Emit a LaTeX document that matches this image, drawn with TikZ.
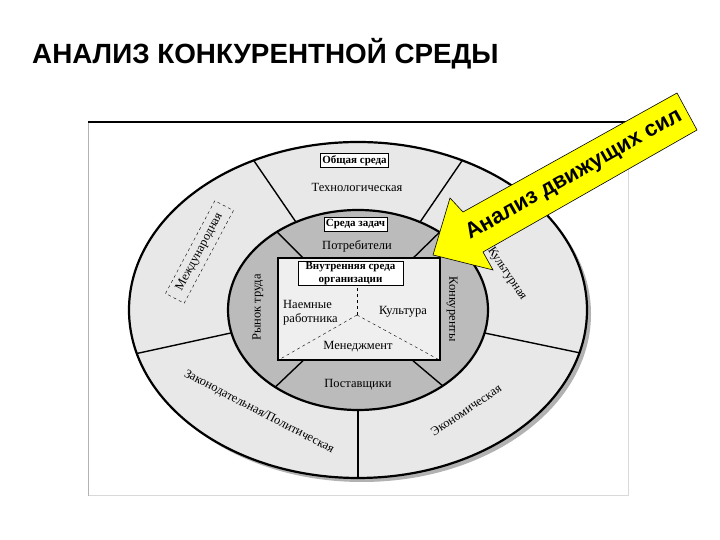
\documentclass[tikz,border=0pt]{standalone}
\usepackage{fontspec}
\setmainfont{Liberation Serif}
\newfontfamily\arialfont{Liberation Sans}
\definecolor{outerband}{HTML}{E8E8E8}
\definecolor{taskband}{HTML}{BBBBBB}
\definecolor{orgfill}{HTML}{EFEFEF}
\definecolor{arrowyellow}{HTML}{FFFF00}
\begin{document}
\begin{tikzpicture}[x=1pt,y=1pt,
  lbl/.style={font=\fontsize{12.5}{14}\selectfont, inner sep=1pt},
  envbox/.style={draw, fill=white, line width=0.6pt, inner sep=2pt,
    font=\bfseries\fontsize{11}{12.5}\selectfont},
  ring/.style={line width=2.2pt},
  spoke/.style={line width=1.4pt}]
\useasboundingbox (0,0) rectangle (720,540);
% title
\node[anchor=west, inner sep=0pt, font=\arialfont\bfseries\fontsize{27.8}{30}\selectfont] (title) at (32,486) {АНАЛИЗ КОНКУРЕНТНОЙ СРЕДЫ};
% frame
\fill[white] (88,44) rectangle (628,418);
\draw[gray!30, line width=1pt] (88,44) -- (628,44) -- (628,418);
\draw[gray!60, line width=1pt] (88,44) -- (88,418);
\draw[black, line width=1.2pt] (88,418) -- (628,418);
% general environment
\fill[gray!60] (362,226) ellipse [x radius=229, y radius=168];
\draw[ring, fill=outerband] (358,230) ellipse [x radius=229, y radius=168];
\begin{scope}
 \clip (358,230) ellipse [x radius=229, y radius=168];
 \draw[spoke] (250,385) -- (300,312);
 \draw[spoke] (466,385) -- (416,312);
 \draw[spoke] (130,185) -- (240,209);
 \draw[spoke] (358,55) -- (358,140);
 \draw[spoke] (475,209) -- (590,185);
\end{scope}
\node[envbox] (general) at (354.5,379.5) {Общая среда};
\node[lbl] (tech) at (357,353) {Технологическая};
\node[lbl, draw, dashed, thin, fill=outerband, rotate=62, minimum width=105, minimum height=21] (intl) at (199.5,288) {Международная};
\node[lbl, rotate=-27.5] (legal) at (259,128) {Законодательная/Политическая};
\node[lbl, rotate=34] (econ) at (466,130) {Экономическая};
\node[lbl, rotate=-56] (cult) at (507,266) {Культурная};
% task environment
\draw[ring, fill=taskband] (358,230) ellipse [x radius=130, y radius=100];
\begin{scope}
 \clip (358,230) ellipse [x radius=130, y radius=100];
 \draw[spoke] (270,315) -- (310,275);
 \draw[spoke] (447,315) -- (405,274);
 \draw[spoke] (268,146) -- (310,186);
 \draw[spoke] (450,148) -- (405,186);
\end{scope}
\node[envbox] (task) at (355.5,315.5) {Среда задач};
\node[lbl] (cust) at (357,294) {Потребители};
\node[lbl, rotate=90] (labour) at (258,232.5) {Рынок труда};
\node[lbl, rotate=-90] (rivals) at (452,231) {Конкуренты};
\node[lbl] (suppl) at (358,155) {Поставщики};
% internal environment
\node[draw, line width=1.4pt, fill=orgfill, minimum width=162, minimum height=102, inner sep=0pt] (org) at (359,231) {};
\node[envbox, align=center, minimum width=105, minimum height=23, inner sep=1pt] (inner) at (350.5,266.5) {Внутренняя среда\\организации};
\coordinate (hub) at (357,225);
\draw[dashed, thin] (hub) -- (hub |- inner.south);
\draw[dashed, thin] (hub) -- (org.south west);
\draw[dashed, thin] (hub) -- (org.south east);
\node[lbl, anchor=west, align=left] (staff) at (282,227.5) {Наемные\\работника};
\node[lbl] (culture) at (403,228) {Культура};
\node[lbl] (mgmt) at (358,193) {Менеджмент};
% arrow
\draw[fill=arrowyellow, line width=0.6pt] (677,447) -- (697,410) -- (483,288) -- (493,270)
  -- (433,285) -- (450,342) -- (463,328) -- cycle;
\node[rotate=29.5, inner sep=0pt, font=\arialfont\bfseries\fontsize{22}{24}\selectfont] (forces) at (574,365) {Анализ движущих сил};
\end{tikzpicture}
\end{document}
